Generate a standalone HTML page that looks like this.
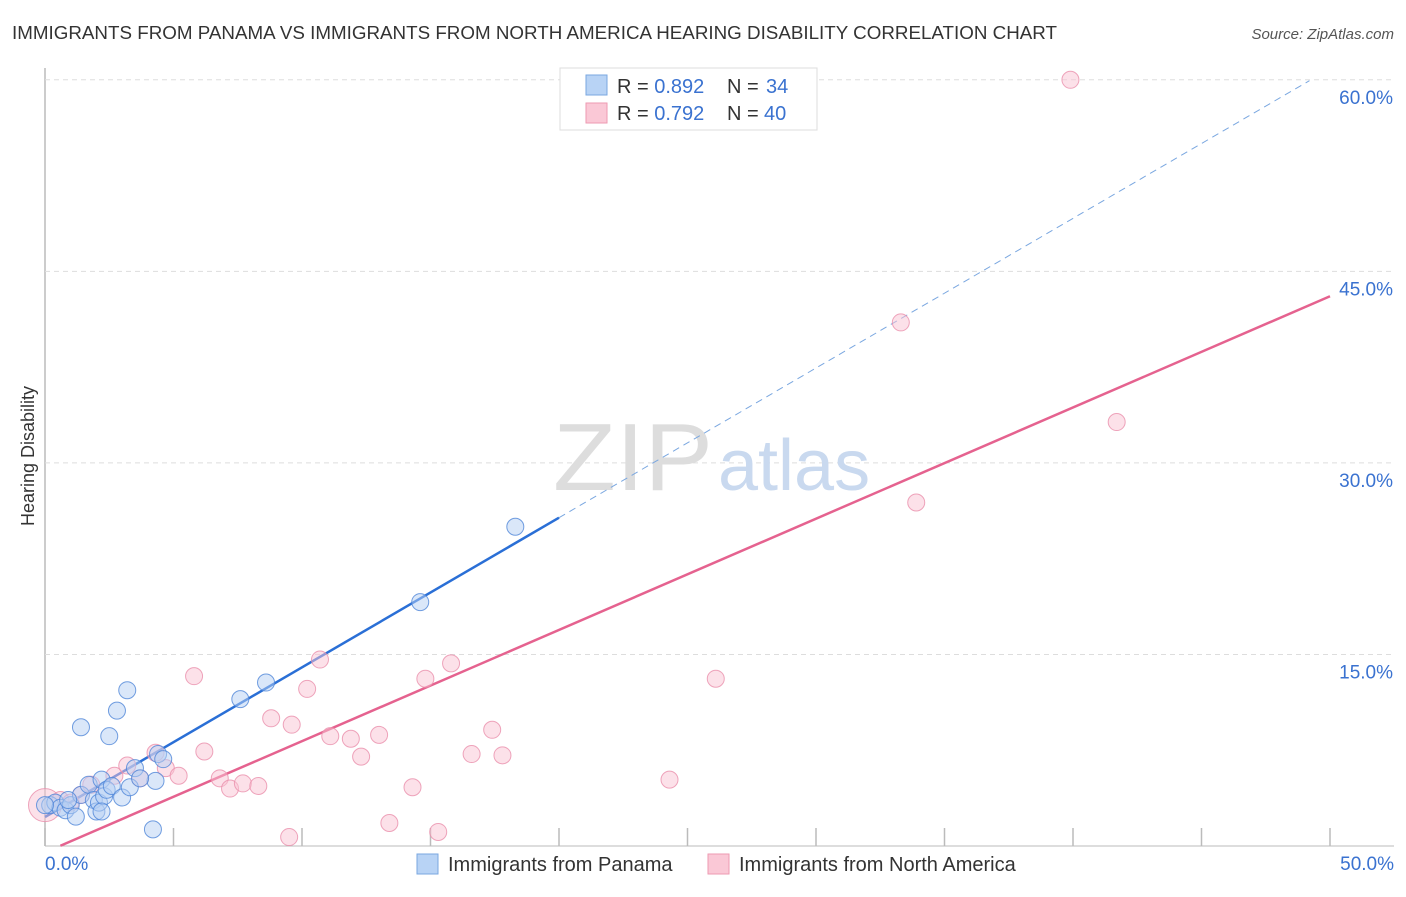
<!DOCTYPE html>
<html><head><meta charset="utf-8"><style>
body{margin:0;background:#fff;font-family:"Liberation Sans",sans-serif;}
svg text{font-family:"Liberation Sans",sans-serif;}
</style></head><body>
<svg id="c" width="1406" height="892">
<text x="12" y="39" font-size="18" fill="#333" textLength="1045" lengthAdjust="spacingAndGlyphs">IMMIGRANTS FROM PANAMA VS IMMIGRANTS FROM NORTH AMERICA HEARING DISABILITY CORRELATION CHART</text>
<text x="1394" y="39" font-size="15" fill="#555" font-style="italic" text-anchor="end">Source: ZipAtlas.com</text>
<text x="0" y="0" transform="translate(34,456) rotate(-90)" font-size="18" fill="#333" text-anchor="middle">Hearing Disability</text>
<g id="grid"></g>
<text x="553" y="490" font-size="96" fill="#ddd" font-family="Liberation Serif" textLength="160" lengthAdjust="spacingAndGlyphs">ZIP</text>
<text x="718" y="490" font-size="72" fill="#c9d9ef">atlas</text>
<g id="lines"></g>
<g id="pts"></g>
<g>
<rect x="560" y="68" width="257" height="62" fill="#fff" stroke="#ddd"/>
<rect x="586" y="75" width="21" height="20" fill="#b8d3f5" stroke="#7aa7e0"/>
<rect x="586" y="103" width="21" height="20" fill="#fac8d6" stroke="#ee9ab2"/>
<text x="617" y="93" font-size="20" fill="#333">R = <tspan fill="#3a72d0">0.892</tspan></text>
<text x="727" y="93" font-size="20" fill="#333">N = <tspan x="766" fill="#3a72d0">34</tspan></text>
<text x="617" y="120" font-size="20" fill="#333">R = <tspan fill="#3a72d0">0.792</tspan></text>
<text x="727" y="120" font-size="20" fill="#333">N = <tspan x="764" fill="#3a72d0">40</tspan></text>
</g>
<g>
<rect x="417" y="854" width="21" height="20" fill="#b8d3f5" stroke="#7aa7e0"/>
<text x="448" y="871" font-size="20" fill="#333">Immigrants from Panama</text>
<rect x="708" y="854" width="21" height="20" fill="#fac8d6" stroke="#ee9ab2"/>
<text x="739" y="871" font-size="20" fill="#333">Immigrants from North America</text>
</g>
<text x="45" y="870" font-size="19" fill="#3a72d0">0.0%</text>
<text x="1394" y="870" font-size="19" fill="#3a72d0" text-anchor="end">50.0%</text>
</svg>
<script>
const yTicks=[15,30,45,60];
const xTicks=[0,5,10,15,20,25,30,35,40,45,50];
const blueX=[0.2,0.4,0.6,0.8,1.0,1.2,1.4,1.7,1.9,2.0,2.1,2.2,2.3,2.4,2.6,3.0,3.3,3.5,4.4,4.6,4.3,4.2,1.4,2.5,2.8,3.2,7.6,8.6,14.6,18.3,0.0,0.9,2.2,3.7];
const blueY=[3.2,3.4,3.0,2.8,3.2,2.3,4.0,4.8,3.6,2.7,3.4,5.2,3.9,4.4,4.7,3.8,4.6,6.1,7.2,6.8,5.1,1.3,9.3,8.6,10.6,12.2,11.5,12.8,19.1,25.0,3.2,3.6,2.7,5.3];
const pinkX=[0.0,0.6,1.0,1.4,1.8,2.7,3.2,3.7,4.3,4.7,5.2,5.8,6.2,6.8,7.2,7.7,8.3,8.8,9.6,9.5,10.2,10.7,11.1,11.9,12.3,13.0,13.4,14.3,14.8,15.3,15.8,16.6,17.4,17.8,24.3,26.1,33.3,33.9,39.9,41.7];
const pinkY=[3.2,3.6,3.4,4.0,4.8,5.5,6.3,5.3,7.3,6.1,5.5,13.3,7.4,5.3,4.5,4.9,4.7,10.0,9.5,0.7,12.3,14.6,8.6,8.4,7.0,8.7,1.8,4.6,13.1,1.1,14.3,7.2,9.1,7.1,5.2,13.1,41.0,26.9,60.0,33.2];
const pinkR=[16,8,8,8,8,8,8,8,8,8,8,8,8,8,8,8,8,8,8,8,8,8,8,8,8,8,8,8,8,8,8,8,8,8,8,8,8,8,8,8];
const blueFit=[2.27,1.172], pinkFit=[-0.5,0.871];
const X=v=>45+v*25.7, Y=v=>846-v*12.77;
const NS='http://www.w3.org/2000/svg';
function mk(t,a,p){const e=document.createElementNS(NS,t);for(const k in a)e.setAttribute(k,a[k]);p.appendChild(e);return e;}
const grid=document.getElementById('grid');
const ax=mk('line',{x1:45,y1:68,x2:45,y2:846,stroke:'#bbb','stroke-width':1.5},grid);


yTicks.forEach(t=>{
 const l=mk('line',{x1:45,x2:1394,y1:Y(t),y2:Y(t),stroke:'#ddd','stroke-dasharray':'5,4'},grid);
 
 
 const tx=mk('text',{x:1393,y:Y(t)+24,'font-size':19,fill:'#3a72d0','text-anchor':'end'},grid);
 tx.textContent=t.toFixed(1)+'%';
 
 
});
xTicks.forEach(t=>{
 const l=mk('line',{x1:X(t),x2:X(t),y1:828,y2:846,stroke:'#bbb','stroke-width':1.5},grid);
 
 
});
const bl=mk('line',{x1:X(0),y1:Y(0),x2:1394,y2:Y(0),stroke:'#bbb'},grid);


const pts=document.getElementById('pts');
function dots(xs,ys,fill,stroke,name,rs){xs.forEach((x,i)=>{
 const c=mk('circle',{cx:X(x),cy:Y(ys[i]),r:rs?rs[i]:8.5,fill:fill,stroke:stroke,'stroke-width':1,'fill-opacity':0.5,'stroke-opacity':0.8},pts);
 
 
});}
dots(pinkX,pinkY,'#f9c4d3','#ea8fab','pink-point',pinkR.map(r=>r+0.5));
dots(blueX,blueY,'#b6d0f3','#4f86d8','blue-point');
const lg=document.getElementById('lines');
const f=(fit,x)=>fit[0]+fit[1]*x;
const l1=mk('line',{x1:X(0),y1:Y(f(blueFit,0)),x2:X(20),y2:Y(f(blueFit,20)),stroke:'#2a6fd6','stroke-width':2.5},lg);


const l2=mk('line',{x1:X(20),y1:Y(f(blueFit,20)),x2:X(49.2),y2:Y(f(blueFit,49.2)),stroke:'#7aa7e0','stroke-width':1,'stroke-dasharray':'7,5'},lg);


const l3=mk('line',{x1:X(0.6),y1:Y(f(pinkFit,0.6)),x2:X(50),y2:Y(f(pinkFit,50)),stroke:'#e5628f','stroke-width':2.5},lg);


</script>
</body></html>
